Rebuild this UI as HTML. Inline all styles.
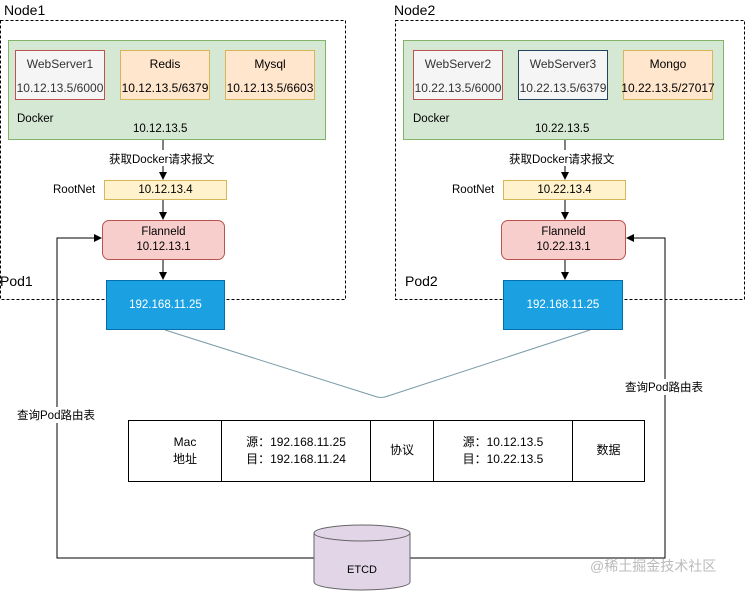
<!DOCTYPE html>
<html><head><meta charset="utf-8"><style>
body{margin:0;width:746px;height:591px;background:#fff;position:relative;overflow:hidden;font-family:"Liberation Sans","Noto Sans CJK SC",sans-serif;font-size:11.5px;color:#000}
.a{position:absolute;box-sizing:border-box}
.c{display:flex;align-items:center;justify-content:center;text-align:center;flex-direction:column;line-height:1.6}
.b{display:flex;flex-direction:column;justify-content:space-between;align-items:center;padding:6px 0 4px;font-size:12px}
</style></head><body>
<svg class="a" style="left:0;top:0" width="746" height="591">
<defs><marker id="m" markerWidth="8" markerHeight="8" refX="7" refY="4" orient="auto" markerUnits="userSpaceOnUse"><path d="M0,0L8,4L0,8z" fill="#000"/></marker></defs>
<rect x="0.5" y="20.5" width="345" height="279" fill="none" stroke="#000" stroke-dasharray="3,2"/>
<rect x="395.5" y="20.5" width="349" height="279" fill="none" stroke="#000" stroke-dasharray="3,2"/>
<line x1="163" y1="140" x2="163" y2="150" stroke="#000"/>
<line x1="163" y1="166" x2="163" y2="179" stroke="#000" marker-end="url(#m)"/>
<line x1="163" y1="200" x2="163" y2="219" stroke="#000" marker-end="url(#m)"/>
<line x1="163" y1="260" x2="163" y2="279" stroke="#000" marker-end="url(#m)"/>
<line x1="565" y1="140" x2="565" y2="150" stroke="#000"/>
<line x1="565" y1="166" x2="565" y2="179" stroke="#000" marker-end="url(#m)"/>
<line x1="565" y1="200" x2="565" y2="219" stroke="#000" marker-end="url(#m)"/>
<line x1="565" y1="260" x2="565" y2="279" stroke="#000" marker-end="url(#m)"/>
<path d="M165,330 L374,396 Q381,399 388,396 L590,330" fill="none" stroke="#7a9aa8" stroke-width="1"/>
<path d="M330,558 L57,558 L57,238 L101,238" fill="none" stroke="#000" marker-end="url(#m)"/>
<path d="M400,558 L665,558 L665,238 L627,238" fill="none" stroke="#000" marker-end="url(#m)"/>
<path d="M314,533 L314,582 A48,8 0 0 0 410,582 L410,533 A48,8 0 0 0 314,533 A48,8 0 0 0 410,533" fill="#e1d5e7" stroke="#666"/>
<text x="362" y="573" text-anchor="middle" font-size="11" font-family="Liberation Sans">ETCD</text>
</svg>
<div class="a" style="left:4px;top:2px;font-size:14px">Node1</div>
<div class="a" style="left:394px;top:2px;font-size:14px">Node2</div>
<div class="a" style="left:0px;top:273px;font-size:14px">Pod1</div>
<div class="a" style="left:405px;top:273px;font-size:14px">Pod2</div>

<div class="a" style="left:8px;top:40px;width:318px;height:100px;background:#d5e8d4;border:1px solid #82b366"></div>
<div class="a b" style="left:15px;top:50px;width:90px;height:50px;background:#f5f5f5;border:1px solid #b85450;color:#333"><span>WebServer1</span><span>10.12.13.5/6000</span></div>
<div class="a b" style="left:120px;top:50px;width:90px;height:50px;background:#ffe6cc;border:1px solid #d6b656"><span>Redis</span><span>10.12.13.5/6379</span></div>
<div class="a b" style="left:225px;top:50px;width:90px;height:50px;background:#ffe6cc;border:1px solid #d6b656"><span>Mysql</span><span>10.12.13.5/6603</span></div>
<div class="a" style="left:17px;top:113px">Docker</div>
<div class="a" style="left:133px;top:123px">10.12.13.5</div>
<div class="a" style="left:109px;top:151px">获取Docker请求报文</div>
<div class="a" style="left:53px;top:184px">RootNet</div>
<div class="a c" style="left:104px;top:180px;width:123px;height:20px;background:#fff2cc;border:1px solid #d6b656">10.12.13.4</div>
<div class="a c" style="left:102px;top:220px;width:123px;height:40px;background:#f8cecc;border:1px solid #b85450;border-radius:7px;line-height:1.3">Flanneld<br>10.12.13.1</div>
<div class="a c" style="left:106px;top:280px;width:119px;height:50px;background:#1ba1e2;border:1px solid #006eaf;color:#fff">192.168.11.25</div>

<div class="a" style="left:403px;top:40px;width:321px;height:100px;background:#d5e8d4;border:1px solid #82b366"></div>
<div class="a b" style="left:413px;top:50px;width:90px;height:50px;background:#f5f5f5;border:1px solid #b85450;color:#333"><span>WebServer2</span><span>10.22.13.5/6000</span></div>
<div class="a b" style="left:518px;top:50px;width:90px;height:50px;background:#f5f5f5;border:1px solid #23445d;color:#333"><span>WebServer3</span><span>10.22.13.5/6379</span></div>
<div class="a b" style="left:623px;top:50px;width:90px;height:50px;background:#ffe6cc;border:1px solid #d6b656"><span>Mongo</span><span>10.22.13.5/27017</span></div>
<div class="a" style="left:413px;top:113px">Docker</div>
<div class="a" style="left:535px;top:123px">10.22.13.5</div>
<div class="a" style="left:509px;top:151px">获取Docker请求报文</div>
<div class="a" style="left:452px;top:184px">RootNet</div>
<div class="a c" style="left:503px;top:180px;width:123px;height:20px;background:#fff2cc;border:1px solid #d6b656">10.22.13.4</div>
<div class="a c" style="left:501px;top:220px;width:125px;height:40px;background:#f8cecc;border:1px solid #b85450;border-radius:7px;line-height:1.3">Flanneld<br>10.22.13.1</div>
<div class="a c" style="left:503px;top:280px;width:120px;height:50px;background:#1ba1e2;border:1px solid #006eaf;color:#fff">192.168.11.25</div>

<div class="a" style="left:17px;top:407px;background:#fff">查询Pod路由表</div>
<div class="a" style="left:625px;top:379px;background:#fff">查询Pod路由表</div>

<div class="a" style="left:128px;top:420px;width:517px;height:62px;border:1px solid #000;display:flex;font-size:12px;background:#fff">
<div class="c" style="width:93px;border-right:1px solid #000;padding-left:20px;box-sizing:border-box;line-height:1.45">Mac<br>地址</div>
<div class="c" style="width:148px;border-right:1px solid #000;line-height:1.45">源：192.168.11.25<br>目：192.168.11.24</div>
<div class="c" style="width:62px;border-right:1px solid #000">协议</div>
<div class="c" style="width:138px;border-right:1px solid #000;line-height:1.45">源：10.12.13.5<br>目：10.22.13.5</div>
<div class="c" style="flex:1">数据</div>
</div>
<div class="a" style="left:590px;top:556px;font-size:14px;color:#bbb">@稀土掘金技术社区</div>
</body></html>
